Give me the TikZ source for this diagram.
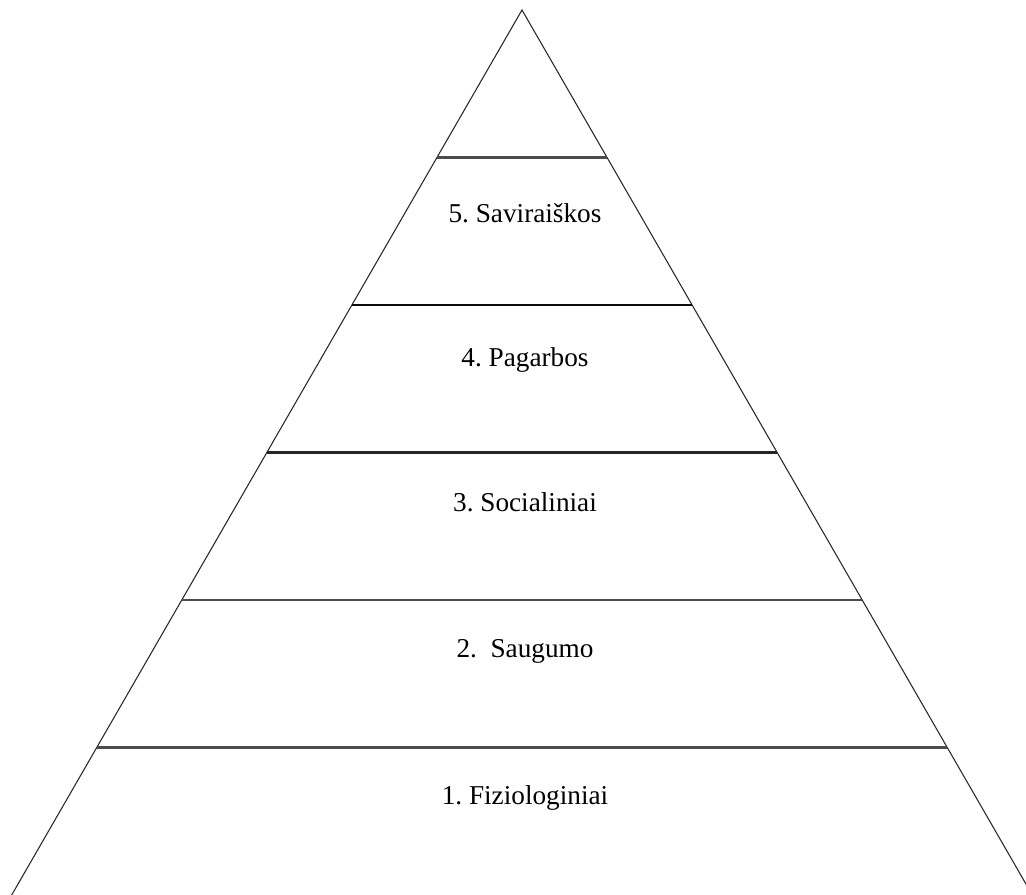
\documentclass[tikz,border=0pt]{standalone}
\usepackage{fontspec}
\setmainfont{Liberation Serif}
\usepackage{tikz}
\usetikzlibrary{calc}
\frenchspacing

\begin{document}
\begin{tikzpicture}[
    side/.style={line width=0.6pt, black!85},
    tier/.style={line width=1.2pt, black!70},
    lvl/.style={font=\fontsize{15.5}{18}\selectfont, anchor=base, inner sep=0pt},
]
\useasboundingbox (0,0) rectangle (20.52,17.90);
\clip (0,0) rectangle (20.52,17.90);

% Pyramid corners
\coordinate (apex) at (10.44,17.70);
\coordinate (bl) at (0.234,0);
\coordinate (br) at (20.646,0);

% Sides
\draw[side] (bl) -- (apex) -- (br);

% Tier lines
\draw[tier] ($(apex)!1/6!(bl)$) -- ($(apex)!1/6!(br)$);
\draw[tier, black!95] ($(apex)!2/6!(bl)$) -- ($(apex)!2/6!(br)$);
\draw[tier, black!85] ($(apex)!3/6!(bl)$) -- ($(apex)!3/6!(br)$);
\draw[tier] ($(apex)!4/6!(bl)$) -- ($(apex)!4/6!(br)$);
\draw[tier] ($(apex)!5/6!(bl)$) -- ($(apex)!5/6!(br)$);

% Levels
\node[lvl] (l5) at (10.50,13.44) {5. Saviraiškos};
\node[lvl] (l4) at (10.50,10.56) {4. Pagarbos};
\node[lvl] (l3) at (10.50,7.66) {3. Socialiniai};
\node[lvl] (l2) at (10.50,4.74) {2.~~Saugumo};
\node[lvl] (l1) at (10.50,1.80) {1. Fiziologiniai};
\end{tikzpicture}
\end{document}
